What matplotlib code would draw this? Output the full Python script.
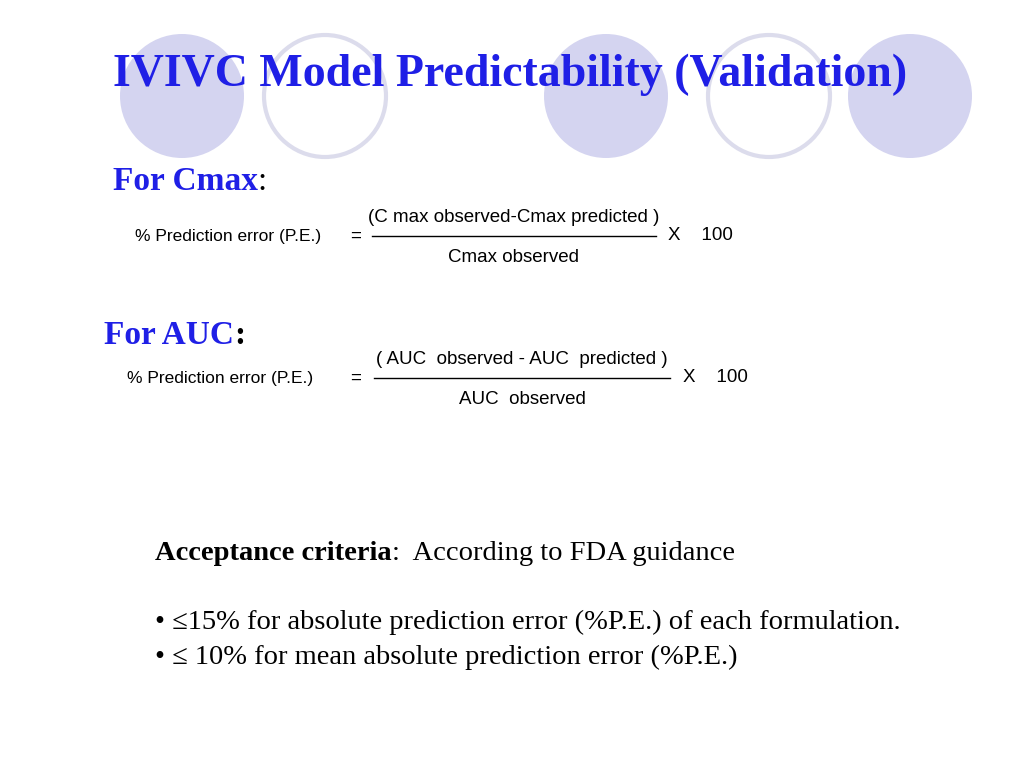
import matplotlib
matplotlib.use("Agg")
import matplotlib.pyplot as plt
from matplotlib.patches import Circle

# slide content
title = "IVIVC Model Predictability (Validation)"
circle_x = [182, 325, 606, 769, 910]
circle_filled = [True, False, True, False, True]
cmax_num = "(C max observed-Cmax predicted )"
cmax_den = "Cmax observed"
auc_num = "( AUC  observed - AUC  predicted )"
auc_den = "AUC  observed"
bullets = ["\u2022 \u226415% for absolute prediction error (%P.E.) of each formulation.",
           "\u2022 \u2264 10% for mean absolute prediction error (%P.E.)"]

fig = plt.figure(figsize=(10.24, 7.68), dpi=100)
ax = fig.add_axes([0, 0, 1, 1])
ax.set_xlim(0, 1024)
ax.set_ylim(768, 0)
ax.axis("off")
r = fig.canvas.get_renderer()

for x, filled in zip(circle_x, circle_filled):
    if filled:
        ax.add_patch(Circle((x, 96), 62, facecolor="#d4d4f0", edgecolor="none", zorder=0))
    else:
        ax.add_patch(Circle((x, 96), 61, facecolor="white", edgecolor="#dcdcec", lw=3, zorder=0))

serif = "Liberation Serif"
sans = "Liberation Sans"

def after(t):
    # x (data units) at the right end of a text object
    return t.get_window_extent(r).x1 * 1024 / fig.bbox.width

ax.text(113, 75, title, fontsize=33, fontweight="bold", color="#1f1fe6",
        family=serif, va="center", zorder=5)
t = ax.text(113, 182, "For Cmax", fontsize=24, fontweight="bold", color="#1f1fe6",
            family=serif, va="center")
ax.text(after(t), 182, ":", fontsize=24, color="black", family=serif, va="center")
t = ax.text(104, 335, "For AUC", fontsize=24, fontweight="bold", color="#1f1fe6",
            family=serif, va="center")
ax.text(after(t), 335, ":", fontsize=24, fontweight="bold", color="black", family=serif, va="center")

def formula(y, x0, x_eq, x_line0, x_line1, num, den, x_X, fs):
    ax.text(x0, y, "% Prediction error (P.E.)", fontsize=fs, family=sans, va="center")
    ax.text(x_eq, y, "=", fontsize=fs + 1, family=sans, va="center")
    ax.plot([x_line0, x_line1], [y, y], color="black", lw=1)
    ax.text((x_line0 + x_line1) / 2, y - 18, num, fontsize=fs + 1, family=sans, ha="center", va="center")
    ax.text((x_line0 + x_line1) / 2, y + 22, den, fontsize=fs + 1, family=sans, ha="center", va="center")
    ax.text(x_X, y, "X    100", fontsize=fs + 1, family=sans, va="center")

formula(236, 135, 350, 372, 656, cmax_num, cmax_den, 668, 12.5)
formula(378, 127, 350, 374, 670, auc_num, auc_den, 683, 12.5)

t = ax.text(155, 553, "Acceptance criteria", fontsize=20.5, fontweight="bold", family=serif, va="center")
ax.text(after(t), 553, ":  According to FDA guidance", fontsize=20.5, family=serif, va="center")
for i, b in enumerate(bullets):
    ax.text(155, 622 + 35 * i, b, fontsize=20.5, family=serif, va="center")

fig.savefig("out.png", dpi=100)
